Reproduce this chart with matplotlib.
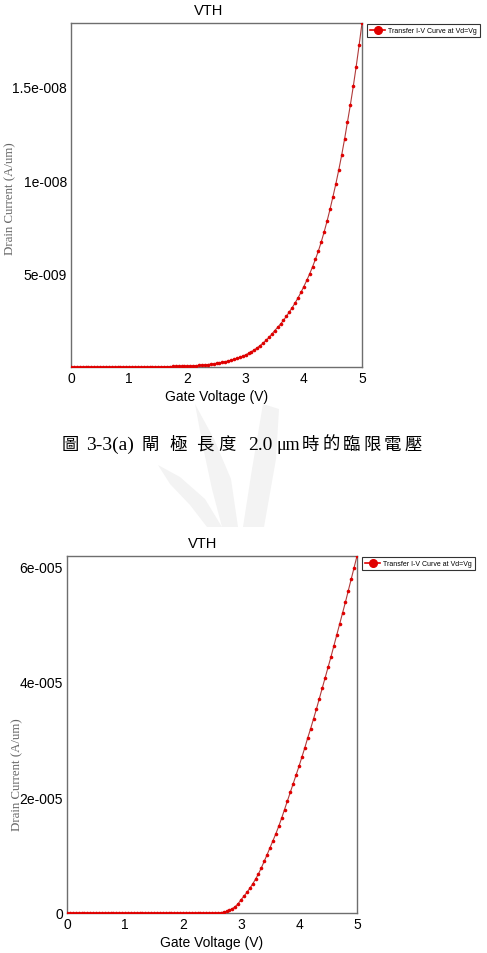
import numpy as np
import matplotlib
matplotlib.use("Agg")
import matplotlib.pyplot as plt
from matplotlib.patches import Polygon
from matplotlib.lines import Line2D

# ---------------- data ----------------
gate_voltage = np.round(np.arange(0, 5.0001, 0.05), 2)  # 0.00 ... 5.00 V sweep, 101 points

# Fig (a): drain current in units of 1e-9 A/um
drain_a_e9 = [
    0, 0, 0, 0, 0, 0, 0, 0, 0, 0,
    0, 0, 0, 0, 0, 0, 0, 0, 0, 0,
    0.001, 0.0013, 0.0017, 0.0022, 0.0028, 0.0036, 0.0046, 0.0059, 0.0075, 0.0095,
    0.012, 0.015, 0.018, 0.022, 0.026, 0.030, 0.035, 0.039, 0.043, 0.046,
    0.050, 0.057, 0.066, 0.076, 0.087, 0.100, 0.115, 0.132, 0.152, 0.174,
    0.200, 0.225, 0.253, 0.285, 0.321, 0.361, 0.406, 0.457, 0.514, 0.578,
    0.650, 0.729, 0.817, 0.915, 1.026, 1.150, 1.278, 1.421, 1.579, 1.755,
    1.950, 2.117, 2.298, 2.495, 2.708, 2.940, 3.172, 3.423, 3.693, 3.985,
    4.300, 4.627, 4.978, 5.357, 5.764, 6.200, 6.695, 7.229, 7.806, 8.429,
    9.100, 9.788, 10.53, 11.32, 12.18, 13.10, 14.02, 15.01, 16.07, 17.20,
    18.40,
]

# Fig (b): drain current in units of 1e-6 A/um
drain_b_e6 = [
    0, 0, 0, 0, 0, 0, 0, 0, 0, 0,
    0, 0, 0, 0, 0, 0, 0, 0, 0, 0,
    0, 0, 0, 0, 0, 0, 0, 0, 0, 0,
    0, 0, 0, 0, 0, 0, 0, 0, 0, 0,
    0, 0, 0, 0, 0, 0, 0, 0, 0, 0,
    0.0, 0.005, 0.02, 0.06, 0.15, 0.30, 0.50, 0.75, 1.10, 1.60,
    2.30, 2.90, 3.55, 4.25, 5.00, 5.85, 6.75, 7.80, 8.95, 10.1,
    11.3, 12.5, 13.7, 15.0, 16.4, 17.9, 19.4, 20.9, 22.4, 23.9,
    25.4, 27.0, 28.6, 30.3, 31.9, 33.6, 35.3, 37.1, 38.9, 40.7,
    42.5, 44.3, 46.2, 48.1, 50.0, 51.9, 53.8, 55.8, 57.8, 59.8,
    61.8,
]

drain_a = np.array(drain_a_e9) * 1e-9
drain_b = np.array(drain_b_e6) * 1e-6

xticks = [0, 1, 2, 3, 4, 5]
yticks_a = [5e-9, 1e-8, 1.5e-8]
ytick_labels_a = ["5e-009", "1e-008", "1.5e-008"]
yticks_b = [0, 2e-5, 4e-5, 6e-5]
ytick_labels_b = ["0", "2e-005", "4e-005", "6e-005"]

title = "VTH"
xlabel = "Gate Voltage (V)"
ylabel = "Drain Current (A/um)"
legend_label = "Transfer I-V Curve at Vd=Vg"

# ---------------- figure ----------------
W, H = 487, 954
fig = plt.figure(figsize=(W / 100, H / 100), dpi=100)
fig.patch.set_facecolor("white")

SANS = ["Liberation Sans", "DejaVu Sans"]
SERIF = ["Liberation Serif", "DejaVu Serif"]
CJK = ["Noto Sans CJK TC", "DejaVu Sans"]


def px_rect(l, t, r, b):
    return [l / W, 1 - b / H, (r - l) / W, (b - t) / H]


def fx(x):
    return x / W


def fy(y):
    return 1 - y / H


def make_panel(rect, x, y, yticks, yticklabels, title_xy, ylabel_xy, legend_xy):
    ax = fig.add_axes(rect)
    ax.plot(x, y, color="#b03a3a", lw=0.8, marker="o", ms=2.6,
            mfc="#e00000", mec="#e00000", mew=0, zorder=3)
    ax.set_xlim(0, 5)
    ax.set_ylim(0, max(y))
    ax.set_xticks(xticks)
    ax.set_xticklabels([str(t) for t in xticks], fontfamily=SANS, fontsize=10)
    ax.set_yticks(yticks)
    ax.set_yticklabels(yticklabels, fontfamily=SANS, fontsize=10)
    ax.tick_params(length=0, pad=3)
    for s in ax.spines.values():
        s.set_color("#6e6e6e")
        s.set_linewidth(1.0)
    ax.set_xlabel(xlabel, fontfamily=SANS, fontsize=10, labelpad=3)
    fig.text(fx(title_xy[0]), fy(title_xy[1]), title, ha="center", va="center",
             fontfamily=SANS, fontsize=10.5)
    fig.text(fx(ylabel_xy[0]), fy(ylabel_xy[1]), ylabel, ha="center", va="center",
             rotation=90, fontfamily=SERIF, fontsize=9.3, color="#666666")
    h = Line2D([], [], color="#e00000", lw=1.2, marker="o", ms=5.5,
               mfc="#e00000", mec="#e00000")
    leg = fig.legend([h], [legend_label], loc="upper left",
                     bbox_to_anchor=(fx(legend_xy[0]), fy(legend_xy[1])),
                     prop={"family": SANS, "size": 5},
                     frameon=True, fancybox=False, borderpad=0.45, handlelength=2.2,
                     handletextpad=0.4, borderaxespad=0)
    leg.get_frame().set_edgecolor("#000000")
    leg.get_frame().set_linewidth(0.8)
    return ax


ax1 = make_panel(px_rect(71, 24, 362, 368), gate_voltage, drain_a,
                 yticks_a, ytick_labels_a, (209, 11), (10, 199), (367, 25))
ax2 = make_panel(px_rect(67, 557, 357, 914), gate_voltage, drain_b,
                 yticks_b, ytick_labels_b, (203, 544), (17, 775), (362, 558))

# ---------------- faint watermark ----------------
leaves = [
    [(158, 466), (180, 478), (205, 500), (222, 528), (207, 528), (190, 506), (170, 485)],
    [(195, 405), (214, 440), (231, 480), (238, 528), (222, 528), (212, 490), (203, 448)],
    [(263, 405), (279, 410), (276, 460), (264, 528), (243, 528), (252, 470)],
]
for pts in leaves:
    fig.patches.append(Polygon([(fx(a), fy(b)) for a, b in pts], closed=True,
                               transform=fig.transFigure, facecolor="#f3f3f3",
                               edgecolor="none", zorder=0))

# ---------------- caption ----------------
cap_y = fy(445)
fig.text(fx(70), cap_y, "圖", ha="center", va="center", fontfamily=CJK, fontsize=12.5)
fig.text(fx(86), cap_y, "3-3(a)", ha="left", va="center", fontfamily=SERIF, fontsize=14)
for ch, cx in zip("閘極長度", [150, 178, 205, 227]):
    fig.text(fx(cx), cap_y, ch, ha="center", va="center", fontfamily=CJK, fontsize=12.5)
fig.text(fx(248), cap_y, "2.0", ha="left", va="center", fontfamily=SERIF, fontsize=14)
fig.text(fx(277), cap_y, "μm", ha="left", va="center", fontfamily=SERIF, fontsize=13)
for i, ch in enumerate("時的臨限電壓"):
    fig.text(fx(300 + 20.6 * (i + 0.5)), cap_y, ch, ha="center", va="center",
             fontfamily=CJK, fontsize=12.5)

fig.savefig("out.png", dpi=100, facecolor="white")
